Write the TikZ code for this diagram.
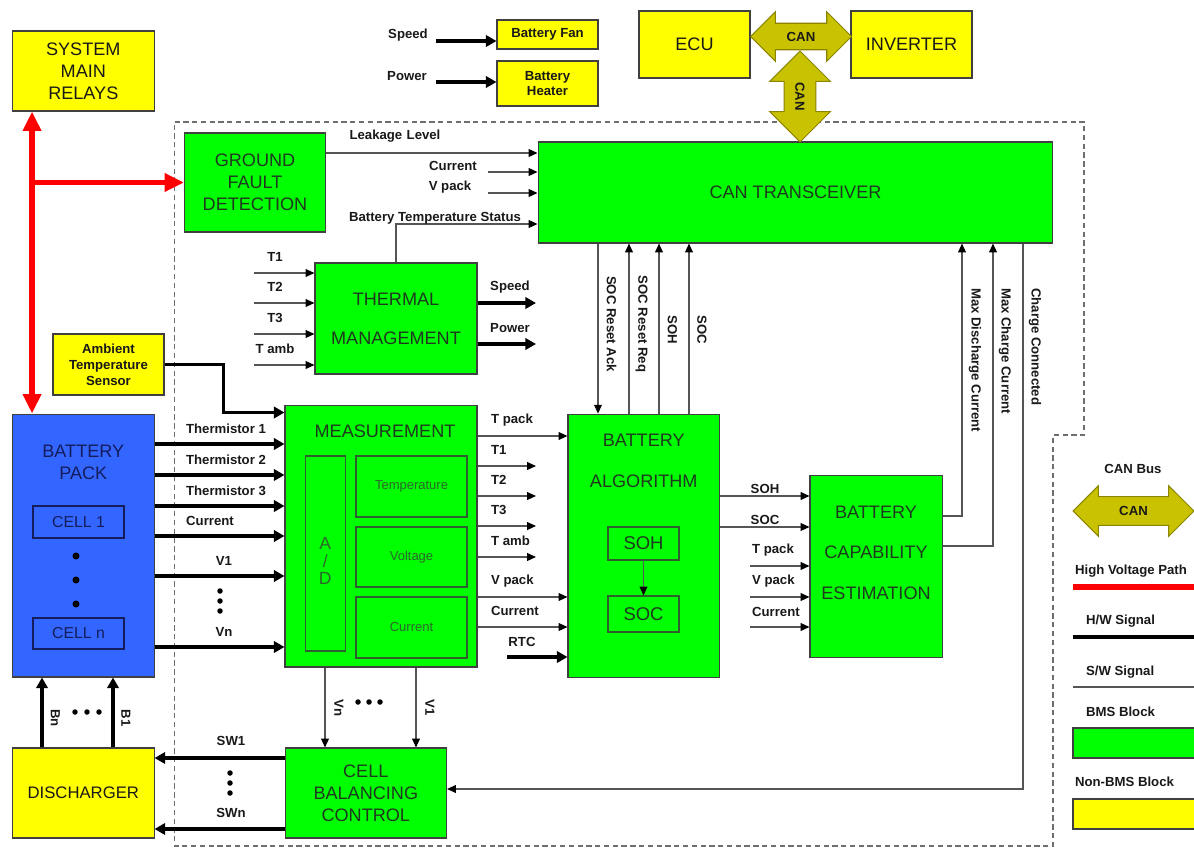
\documentclass[tikz,border=0pt]{standalone}
\usepackage{fontspec}
\setmainfont{Liberation Sans}
\usepackage{xcolor}
\usepackage{tikz}
\usetikzlibrary{positioning, arrows.meta, calc, shapes.arrows}
\definecolor{bmsgreen}{HTML}{00FF00}
\definecolor{bmstext}{HTML}{203820}
\definecolor{subtext}{HTML}{2C662C}
\definecolor{subedge}{HTML}{2F5F2F}
\definecolor{nbyellow}{HTML}{FFFF00}
\definecolor{packblue}{HTML}{3366FF}
\definecolor{packtext}{HTML}{141C5C}
\definecolor{canolive}{HTML}{C9C200}
\definecolor{canedge}{HTML}{8A8400}
\definecolor{boxline}{HTML}{404040}
\definecolor{swline}{HTML}{555555}
\definecolor{hvred}{HTML}{FF0000}
\definecolor{frameline}{HTML}{6E6E6E}
\newcommand{\blockfont}{\fontsize{10.3}{12.4}\selectfont}
\newcommand{\sigfont}{\fontsize{7.5}{9}\selectfont\bfseries}

\tikzset{
  block/.style={draw=boxline, line width=0.6pt, inner sep=0pt, align=center, font=\blockfont},
  bms/.style={block, fill=bmsgreen, text=bmstext},
  nonbms/.style={block, fill=nbyellow, text=black!90},
  packblock/.style={block, fill=packblue, text=packtext},
  cellbox/.style={draw=packtext, line width=0.6pt, inner sep=0pt, font=\fontsize{9}{11}\selectfont, text=packtext},
  subblock/.style={draw=subedge, line width=0.6pt, inner sep=0pt, align=center, text=subtext, font=\fontsize{7.4}{9}\selectfont},
  sig/.style={font=\sigfont, inner sep=1pt, text=black!90},
  sw/.style={draw=swline, line width=0.7pt, -{Triangle[length=5pt,width=4.4pt,color=black]}},
  hw/.style={draw=black, line width=1.8pt, -{Triangle[length=6pt,width=6.4pt]}},
  hv/.style={draw=hvred, line width=3.4pt},
  hvtip/.tip={Triangle[length=11pt,width=10pt]},
  canbus/.style={double arrow, draw=canedge, fill=canolive, line width=0.6pt, font=\sigfont, text=black!90, inner xsep=3pt},
  bmsframe/.style={draw=frameline, line width=0.6pt, dash pattern=on 3pt off 2pt}
}

\begin{document}
\begin{tikzpicture}[x=0.02cm, y=-0.02cm]
    \useasboundingbox[fill=white] (0,0) rectangle (1194,848);

    % BMS boundary
    \draw[bmsframe] (174.5,122) -- (1084,122) -- (1084,435) -- (1053,435) -- (1053,846) -- (174.5,846) -- cycle;

    % outside blocks
    \node[nonbms, minimum width=2.83cm, minimum height=1.6cm] (smr) at (83.3,71) {SYSTEM\\MAIN\\RELAYS};
    \node[nonbms, font=\sigfont, minimum width=2.02cm, minimum height=0.58cm] (fan) at (547.5,34.5) {Battery Fan};
    \node[nonbms, font=\sigfont, minimum width=2.02cm, minimum height=0.9cm] (heater) at (547.5,83.5) {Battery\\Heater};
    \node[nonbms, minimum width=2.22cm, minimum height=1.34cm] (ecu) at (694.5,44.5) {ECU};
    \node[nonbms, minimum width=2.42cm, minimum height=1.34cm] (inverter) at (911.5,44.5) {INVERTER};
    \node[nonbms, font=\sigfont, minimum width=2.22cm, minimum height=1.22cm] (amb) at (108.5,364.5) {Ambient\\Temperature\\Sensor};
    \node[nonbms, font=\fontsize{9.5}{11}\selectfont, minimum width=2.83cm, minimum height=1.8cm] (dis) at (83.3,793) {DISCHARGER};

    % battery pack
    \node[packblock, minimum width=2.83cm, minimum height=5.26cm] (pack) at (83.3,545.5) {};
    \node[packblock, draw=none, fill=none] (packtitle) at (83.3,462.5) {BATTERY\\PACK};
    \node[cellbox, minimum width=1.82cm, minimum height=0.64cm] (cell1) at (78.5,522) {CELL 1};
    \node[cellbox, minimum width=1.82cm, minimum height=0.62cm] (celln) at (78.5,633.5) {CELL n};
    \foreach \y in {556,580,604}
      \fill[black] (76,\y) circle[radius=0.07cm];

    % BMS blocks
    \node[bms, minimum width=2.82cm, minimum height=1.98cm] (gfd) at (255,182.5) {GROUND\\FAULT\\DETECTION};
    \node[bms, minimum width=10.3cm, minimum height=2.02cm] (can) at (795.5,192.5) {CAN TRANSCEIVER};
    \node[bms, minimum width=3.24cm, minimum height=2.22cm] (thermal) at (396,318.5) {THERMAL\\[9.7pt]MANAGEMENT};
    \node[bms, minimum width=3.84cm, minimum height=5.24cm] (meas) at (381,536) {};
    \node[bms, draw=none, fill=none] (meastitle) at (385,431) {MEASUREMENT};
    \node[subblock, minimum width=0.81cm, minimum height=3.9cm] (adbox) at (325.3,553.5) {};
    \node[subblock, draw=none, font=\fontsize{10}{10.2}\selectfont] (adtext) at (325.3,561) {A\\/\\D};
    \node[subblock, minimum width=2.22cm, minimum height=1.22cm] (tempbox) at (411.5,486.5) {Temperature};
    \node[subblock, minimum width=2.22cm, minimum height=1.2cm] (voltbox) at (411.5,557) {Voltage};
    \node[subblock, minimum width=2.22cm, minimum height=1.22cm] (currbox) at (411.5,627.5) {Current};
    \node[bms, minimum width=3.03cm, minimum height=5.27cm] (ba) at (643.75,545.85) {};
    \node[bms, draw=none, fill=none] (batitle) at (643.75,460.5) {BATTERY\\[10.8pt]ALGORITHM};
    \node[subblock, text=bmstext, font=\fontsize{10.5}{12}\selectfont, minimum width=1.42cm, minimum height=0.66cm] (sohbox) at (643.5,543.5) {SOH};
    \node[subblock, text=bmstext, font=\fontsize{10.5}{12}\selectfont, minimum width=1.42cm, minimum height=0.72cm] (socbox) at (643.5,614) {SOC};
    \node[bms, minimum width=2.65cm, minimum height=3.63cm] (bce) at (876.25,566.3) {};
    \node[bms, draw=none, fill=none] (bcetitle) at (876,552.5) {BATTERY\\[10.6pt]CAPABILITY\\[10.6pt]ESTIMATION};
    \node[bms, minimum width=3.23cm, minimum height=1.8cm] (cbc) at (365.8,793) {CELL\\BALANCING\\CONTROL};

    % CAN bus
    \node[canbus, minimum height=2.02cm, minimum width=0.98cm, double arrow head extend=0.23cm, inner ysep=4.6pt] (canh) at (801,36.5) {CAN};
    \node[canbus, rotate=-90, minimum height=1.82cm, minimum width=1.2cm, double arrow head extend=0.29cm, inner ysep=6.1pt] (canv) at (800,96.5) {CAN};

    % fan and heater
    \node[sig] (spdtag) at (408,35) {Speed};
    \coordinate (spdin) at (436,41);
    \draw[hw] (spdin) -- (fan.west |- spdin);
    \node[sig] (pwrtag) at (407,76) {Power};
    \coordinate (pwrin) at (436,82);
    \draw[hw] (pwrin) -- (heater.west |- pwrin);

    % high voltage path
    \coordinate (hvtop) at ([xshift=0.4cm]smr.south west);
    \draw[hv, hvtip-hvtip] (hvtop) -- (hvtop |- pack.north);
    \draw[hv, -hvtip] (hvtop |- gfd.west) -- (gfd.west);

    % inputs of CAN transceiver
    \draw[sw] (gfd.east |- 0,153) -- (can.west |- 0,153);
    \node[sig] (leaktag) at (395,136) {Leakage\,\,Level};
    \foreach \y/\lx/\txt in {172/453/Current, 193/450/V pack} {
      \coordinate (canin) at (488,\y);
      \draw[sw] (canin) -- (can.west |- canin);
      \node[sig] at (\lx,\y-6) {\txt};
    }
    \draw[sw] (thermal.north) |- (can.west |- 0,224);
    \node[sig] (btstag) at (435,218) {Battery Temperature Status};

    % thermal management
    \foreach \y/\txt in {273/T1, 303/T2, 334/T3, 365/T amb} {
      \coordinate (thin) at (254,\y);
      \draw[sw] (thin) -- (thermal.west |- thin);
      \node[sig] at (275,\y-16) {\txt};
    }
    \foreach \y/\txt in {303/Speed, 344/Power} {
      \coordinate (thout) at (536,\y);
      \draw[hw] (thermal.east |- thout) -- (thout);
      \node[sig] at (510,\y-16) {\txt};
    }

    % ambient sensor
    \draw[hw] (amb.east) -- ++(59,0) |- ([yshift=-0.16cm]meas.north west);

    % battery pack to measurement
    \foreach \y/\lx/\txt in {444/226/Thermistor 1, 475/226/Thermistor 2, 506/226/Thermistor 3, 536/210/Current, 576/224/V1, 647/224/Vn} {
      \draw[hw] (pack.east |- 0,\y) -- (meas.west |- 0,\y);
      \node[sig] at (\lx,\y-15.5) {\txt};
    }
    \foreach \y in {591,601,611}
      \fill[black] (220,\y) circle[radius=0.055cm];

    % measurement to battery algorithm
    \foreach \y/\txt in {436/T pack, 597/V pack, 627/Current} {
      \draw[sw] (meas.east |- 0,\y) -- (ba.west |- 0,\y);
      \node[sig, anchor=west] at (489,\y-16) {\txt};
    }
    \foreach \y/\txt in {466/T1, 496/T2, 526/T3, 557/T amb} {
      \coordinate (msout) at (536,\y);
      \draw[sw] (meas.east |- msout) -- (msout);
      \node[sig, anchor=west] at (489,\y-16.5) {\txt};
    }
    \coordinate (rtcin) at (507,657);
    \draw[hw] (rtcin) -- (ba.west |- rtcin);
    \node[sig] (rtctag) at (522,642) {RTC};

    % measurement to cell balancing
    \draw[sw] (meas.south -| 325,0) -- (cbc.north -| 325,0);
    \draw[sw] (meas.south -| 416,0) -- (cbc.north -| 416,0);
    \node[sig, rotate=-90] at (339,708) {Vn};
    \node[sig, rotate=-90] at (430,708) {V1};
    \foreach \x in {358,369,380}
      \fill[black] (\x,702) circle[radius=0.055cm];

    % discharger
    \draw[hw] (dis.north -| 42,0) -- (pack.south -| 42,0);
    \draw[hw] (dis.north -| 113,0) -- (pack.south -| 113,0);
    \node[sig, rotate=-90] at (55.5,718) {Bn};
    \node[sig, rotate=-90] at (126,718) {B1};
    \foreach \x in {75,87,99}
      \fill[black] (\x,712) circle[radius=0.055cm];
    \draw[hw] (cbc.west |- 0,758) -- (dis.east |- 0,758);
    \draw[hw] (cbc.west |- 0,829) -- (dis.east |- 0,829);
    \node[sig] at (231,741) {SW1};
    \node[sig] at (231,813) {SWn};
    \foreach \y in {773,783,793}
      \fill[black] (230,\y) circle[radius=0.055cm];

    % battery algorithm and CAN transceiver
    \draw[sw] (can.south -| 598,0) -- (ba.north -| 598,0);
    \foreach \x in {629,659,689}
      \draw[sw] (ba.north -| \x,0) -- (can.south -| \x,0);
    \node[sig, rotate=-90] at (611.5,324) {SOC Reset Ack};
    \node[sig, rotate=-90] at (641.5,324) {SOC Reset Req};
    \node[sig, rotate=-90] at (672.5,330) {SOH};
    \node[sig, rotate=-90] at (702,330) {SOC};
    \draw[sw] (sohbox) -- (socbox);

    % battery capability estimation
    \draw[sw] (ba.east |- 0,496) -- (bce.west |- 0,496);
    \draw[sw] (ba.east |- 0,527) -- (bce.west |- 0,527);
    \node[sig] at (765,489) {SOH};
    \node[sig] at (765,520) {SOC};
    \foreach \y/\txt in {566/T pack, 597/V pack, 627/Current} {
      \coordinate (bcein) at (750,\y);
      \draw[sw] (bcein) -- (bce.west |- bcein);
      \node[sig, anchor=west] at (750,\y-15.5) {\txt};
    }
    \draw[sw] (bce.east |- 0,516) -| (can.south -| 962,0);
    \draw[sw] (bce.east |- 0,546) -| (can.south -| 993,0);
    \draw[sw] (can.south -| 1023,0) |- (cbc.east |- 0,789);
    \node[sig, rotate=-90, anchor=west] at (975,286) {Max Discharge Current};
    \node[sig, rotate=-90, anchor=west] at (1005,286) {Max Charge Current};
    \node[sig, rotate=-90, anchor=west] at (1035,286) {Charge Connected};

    % legend
    \node[sig] (legcan) at (1133,469) {CAN Bus};
    \node[canbus, minimum height=2.42cm, minimum width=1.0cm, double arrow head extend=0.22cm, inner ysep=5.2pt] (legarrow) at (1133.5,511) {CAN};
    \node[sig, anchor=west] (leghv) at (1073,571) {High Voltage Path};
    \draw[hv] (1073,587) -- (1194,587);
    \node[sig, anchor=west] (leghw) at (1084,621) {H/W Signal};
    \draw[black, line width=1.8pt] (1073,637) -- (1194,637);
    \node[sig, anchor=west] (legsw) at (1084,672) {S/W Signal};
    \draw[swline, line width=0.7pt] (1073,687) -- (1194,687);
    \node[sig, anchor=west] (legbms) at (1084,712) {BMS Block};
    \node[bms, minimum width=2.44cm, minimum height=0.6cm] (legbmsbox) at (1134,743) {};
    \node[sig, anchor=west] (legnb) at (1073,782) {Non-BMS Block};
    \node[nonbms, minimum width=2.44cm, minimum height=0.6cm] (legnbbox) at (1134,814) {};
\end{tikzpicture}
\end{document}
